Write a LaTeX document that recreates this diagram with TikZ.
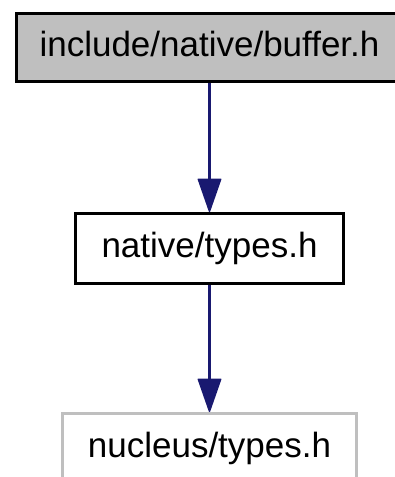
\documentclass[tikz,border=0pt]{standalone}
\usepackage{fontspec}
\setmainfont{Liberation Sans}
\usetikzlibrary{arrows.meta}
\definecolor{edgeblue}{HTML}{191970}
\definecolor{boxgray}{HTML}{BFBFBF}
\begin{document}
\begin{tikzpicture}[x=1pt,y=1pt,
  filebox/.style={draw=black, line width=3pt, rectangle, inner sep=0pt,
    minimum height=70pt, text height=25.5pt, text depth=7.4pt,
    font=\fontsize{35}{42}\selectfont},
  dep/.style={draw=edgeblue, line width=3pt,
    -{Triangle[length=35pt,width=24pt,line width=1.5pt,round]}}]
  \useasboundingbox (0,0) rectangle (395,477);
  \clip (0,0) rectangle (395,477);
  % the file whose includes are shown
  \node[filebox, fill=boxgray, minimum width=387pt, minimum height=68pt]
    (buffer) at (209.5,429.5) {include/native/buffer.h};
  % headers it pulls in
  \node[filebox, minimum width=268pt] (ntypes) at (209.5,228.5) {native/types.h};
  \node[filebox, draw=boxgray, minimum width=294pt] (nucleus) at (209.5,28.5) {nucleus/types.h};
  % include edges
  \draw[dep] (buffer) -- (ntypes);
  \draw[dep] (ntypes) -- (nucleus);
\end{tikzpicture}
\end{document}
